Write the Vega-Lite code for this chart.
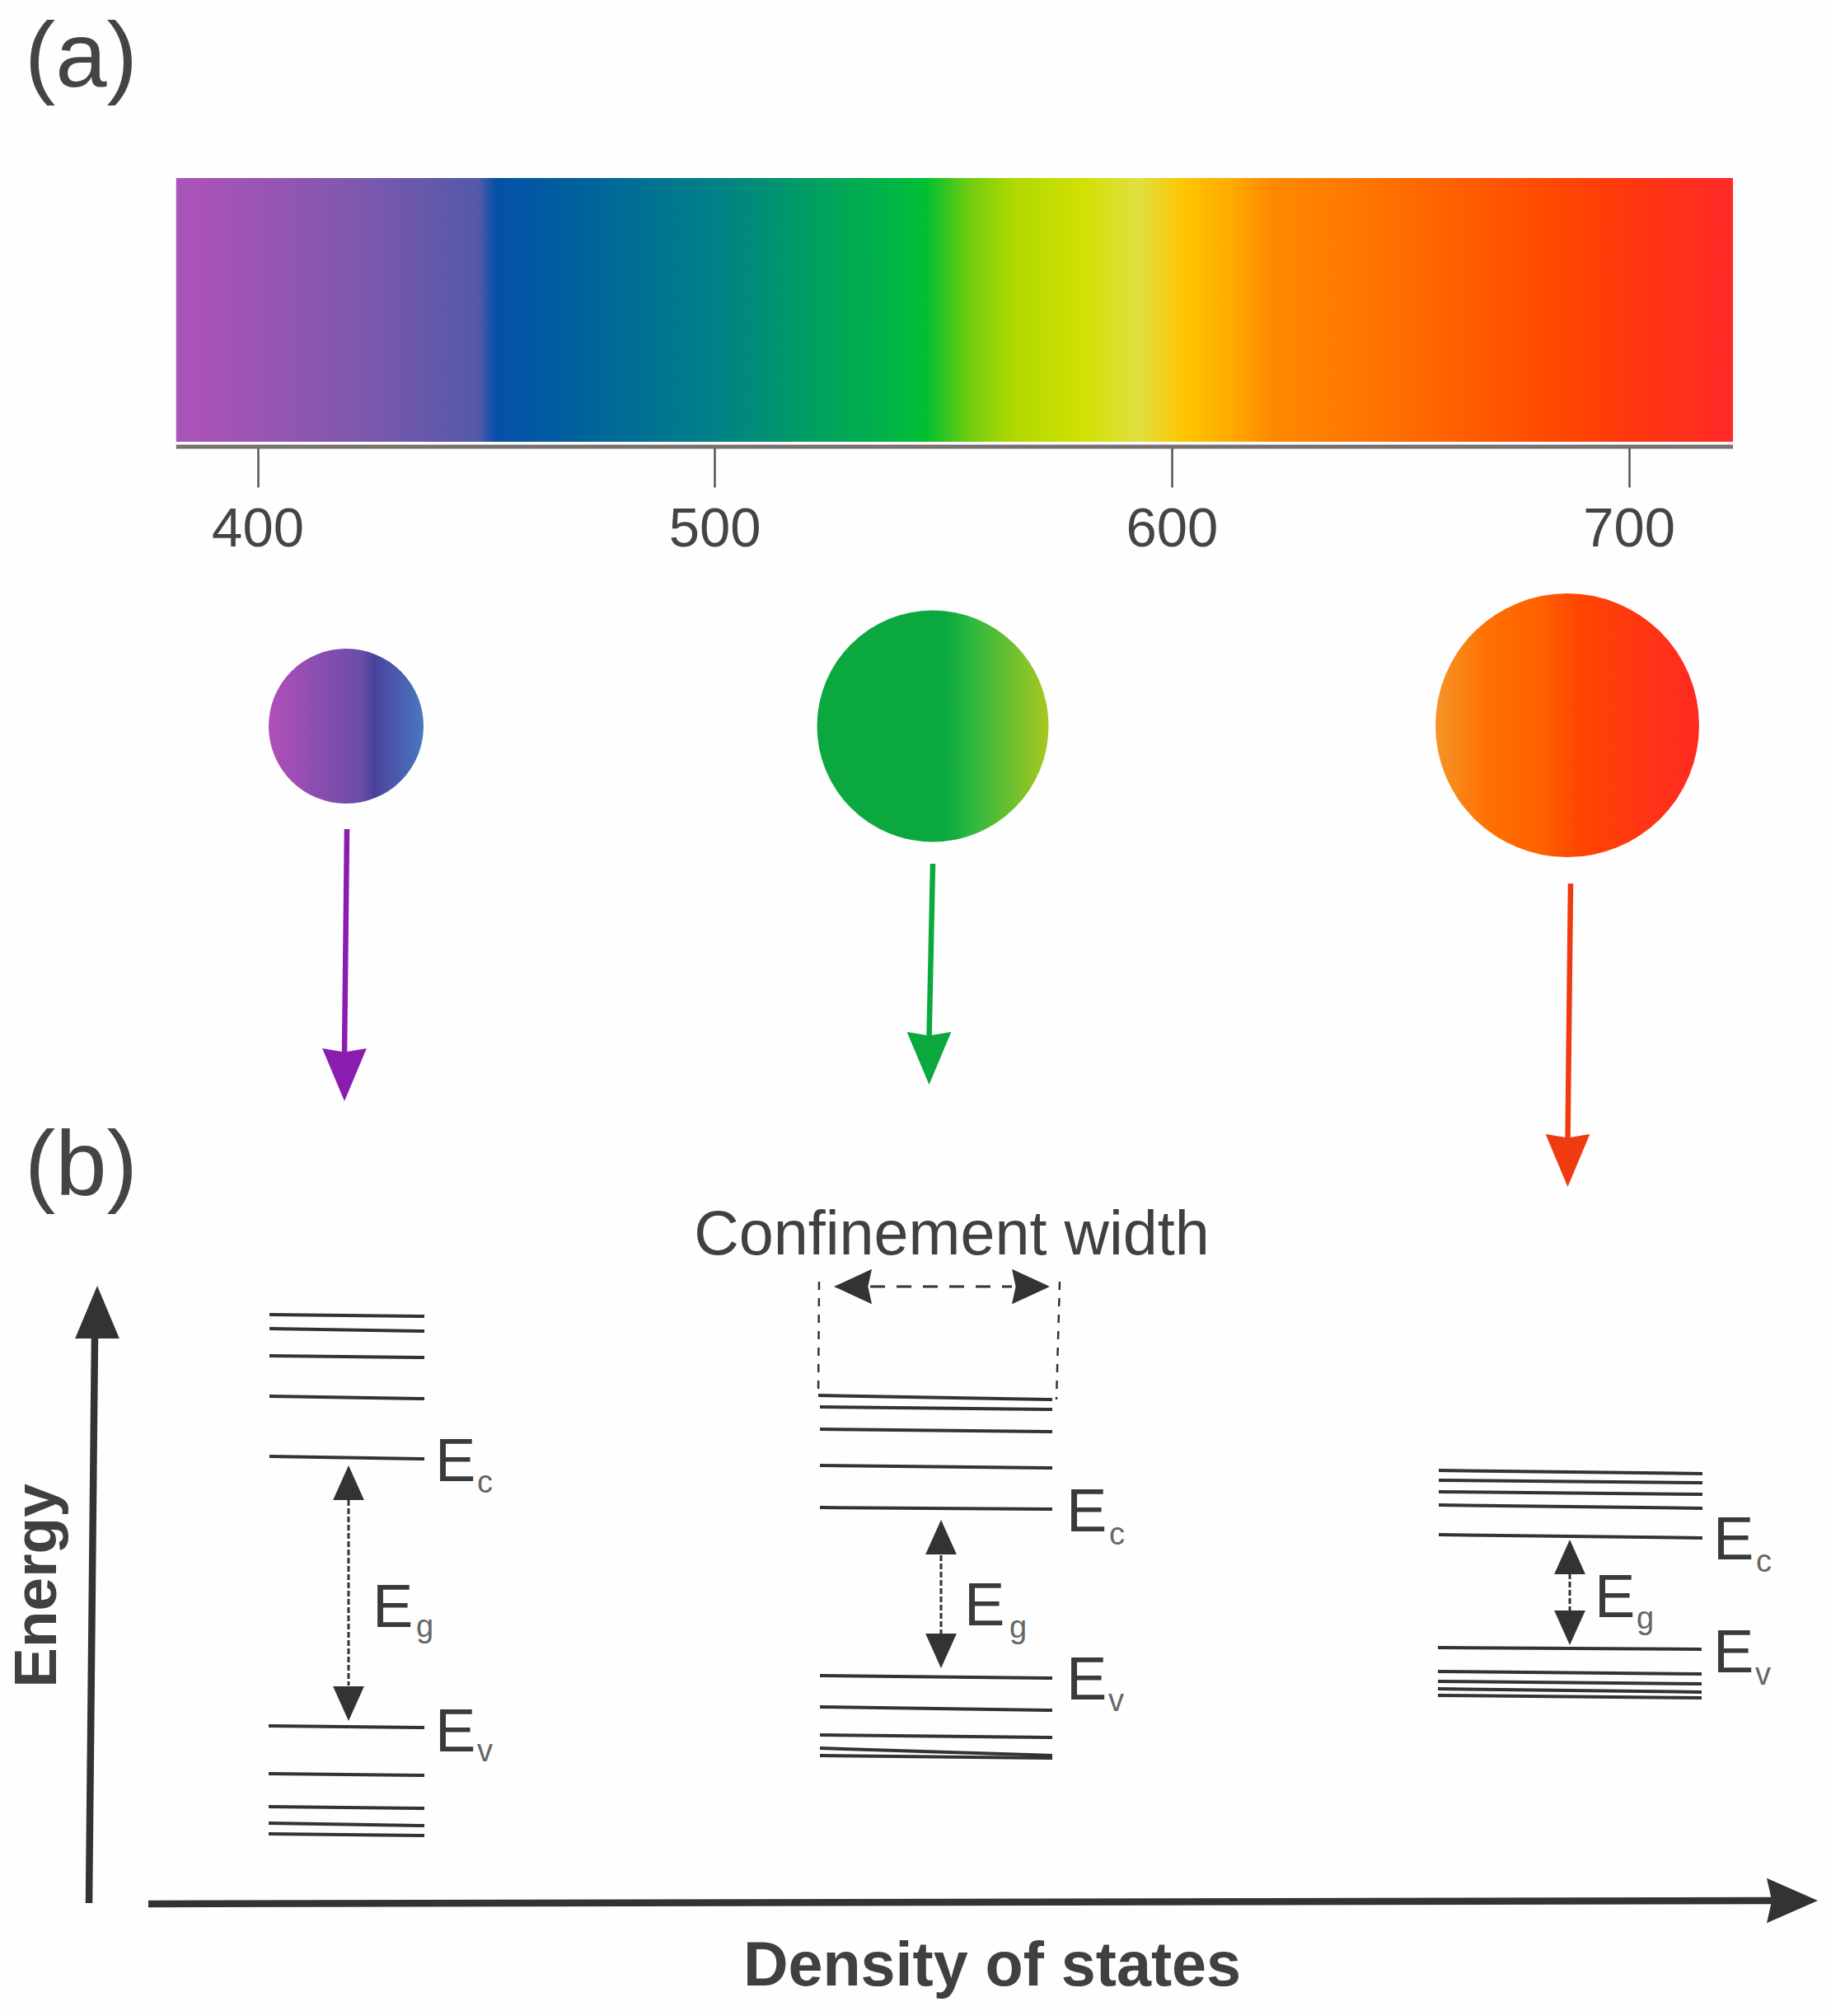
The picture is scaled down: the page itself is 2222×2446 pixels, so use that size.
{
  "$schema": "https://vega.github.io/schema/vega-lite/v6.json",
  "width": 2222,
  "height": 2446,
  "padding": 0,
  "autosize": {"type": "fit", "contains": "padding"},
  "background": "#fefefe",
  "config": {
    "view": {"stroke": null},
    "text": {"font": "Liberation Sans", "align": "left", "baseline": "alphabetic"}
  },
  "datasets": {
    "levels": [
      {"panel": "small", "x": 327, "y": 1595, "x2": 515, "y2": 1597},
      {"panel": "small", "x": 327, "y": 1612, "x2": 515, "y2": 1615},
      {"panel": "small", "x": 327, "y": 1645, "x2": 515, "y2": 1647},
      {"panel": "small", "x": 327, "y": 1694, "x2": 515, "y2": 1697},
      {"panel": "small", "x": 327, "y": 1767, "x2": 515, "y2": 1770},
      {"panel": "small", "x": 326, "y": 2094, "x2": 515, "y2": 2096},
      {"panel": "small", "x": 326, "y": 2152, "x2": 515, "y2": 2154},
      {"panel": "small", "x": 326, "y": 2192, "x2": 515, "y2": 2194},
      {"panel": "small", "x": 326, "y": 2212, "x2": 515, "y2": 2215},
      {"panel": "small", "x": 326, "y": 2225, "x2": 515, "y2": 2227},
      {"panel": "medium", "x": 993, "y": 1693, "x2": 1277, "y2": 1698},
      {"panel": "medium", "x": 995, "y": 1707, "x2": 1277, "y2": 1710},
      {"panel": "medium", "x": 995, "y": 1734, "x2": 1277, "y2": 1737},
      {"panel": "medium", "x": 995, "y": 1778, "x2": 1277, "y2": 1781},
      {"panel": "medium", "x": 995, "y": 1829, "x2": 1277, "y2": 1831},
      {"panel": "medium", "x": 995, "y": 2033, "x2": 1277, "y2": 2036},
      {"panel": "medium", "x": 995, "y": 2071, "x2": 1277, "y2": 2075},
      {"panel": "medium", "x": 995, "y": 2105, "x2": 1277, "y2": 2108},
      {"panel": "medium", "x": 995, "y": 2121, "x2": 1277, "y2": 2130},
      {"panel": "medium", "x": 995, "y": 2130, "x2": 1277, "y2": 2133},
      {"panel": "large", "x": 1746, "y": 1784, "x2": 2066, "y2": 1788},
      {"panel": "large", "x": 1746, "y": 1796, "x2": 2066, "y2": 1799},
      {"panel": "large", "x": 1746, "y": 1810, "x2": 2066, "y2": 1813},
      {"panel": "large", "x": 1746, "y": 1826, "x2": 2066, "y2": 1830},
      {"panel": "large", "x": 1746, "y": 1862, "x2": 2066, "y2": 1866},
      {"panel": "large", "x": 1745, "y": 1999, "x2": 2065, "y2": 2001},
      {"panel": "large", "x": 1745, "y": 2028, "x2": 2065, "y2": 2031},
      {"panel": "large", "x": 1745, "y": 2040, "x2": 2065, "y2": 2043},
      {"panel": "large", "x": 1745, "y": 2049, "x2": 2065, "y2": 2053},
      {"panel": "large", "x": 1745, "y": 2057, "x2": 2065, "y2": 2060}
    ]
  },
  "resolve": {"scale": {"x": "independent"}, "axis": {"x": "independent"}},
  "layer": [
    {
      "data": {"values": [{"wavelength": 382.2, "wavelength_end": 722.8, "y": 216, "y2": 536, "rule_y": 542}]},
      "layer": [
        {
          "mark": {
            "type": "rect",
            "fill": {
              "gradient": "linear", "x1": 0, "x2": 1, "y1": 0, "y2": 0,
              "stops": [
                {"offset": 0, "color": "#a856b8"},
                {"offset": 0.014, "color": "#aa52b8"},
                {"offset": 0.112, "color": "#8058ae"},
                {"offset": 0.194, "color": "#5558a8"},
                {"offset": 0.205, "color": "#0550a8"},
                {"offset": 0.243, "color": "#005ca0"},
                {"offset": 0.345, "color": "#008088"},
                {"offset": 0.412, "color": "#00a060"},
                {"offset": 0.468, "color": "#00b840"},
                {"offset": 0.482, "color": "#00c030"},
                {"offset": 0.509, "color": "#70cc10"},
                {"offset": 0.538, "color": "#b0d800"},
                {"offset": 0.58, "color": "#d0e000"},
                {"offset": 0.618, "color": "#e0e040"},
                {"offset": 0.648, "color": "#ffc400"},
                {"offset": 0.678, "color": "#ffaa00"},
                {"offset": 0.705, "color": "#ff8800"},
                {"offset": 0.756, "color": "#ff7800"},
                {"offset": 0.831, "color": "#ff5c00"},
                {"offset": 0.887, "color": "#ff4800"},
                {"offset": 0.94, "color": "#ff3510"},
                {"offset": 1, "color": "#ff2a28"}
              ]
            }
          },
          "encoding": {
            "x": {
              "field": "wavelength",
              "type": "quantitative",
              "scale": {"domain": [343.66, 744.24], "nice": false, "zero": false},
              "axis": {
                "values": [400, 500, 600, 700],
                "offset": -1904,
                "orient": "bottom",
                "title": null,
                "grid": false,
                "domain": false,
                "tickSize": 49,
                "tickWidth": 2.5,
                "tickColor": "#555555",
                "labelFont": "Liberation Sans",
                "labelFontSize": 67,
                "labelColor": "#444444",
                "labelPadding": 18
              }
            },
            "x2": {"field": "wavelength_end"},
            "y": {"field": "y", "type": "quantitative", "scale": {"domain": [2446, 0]}, "axis": null},
            "y2": {"field": "y2"}
          }
        },
        {
          "mark": {"type": "rule", "color": "#77706f", "strokeWidth": 5},
          "encoding": {
            "x": {"field": "wavelength", "type": "quantitative", "scale": {"domain": [343.66, 744.24], "nice": false, "zero": false}},
            "x2": {"field": "wavelength_end"},
            "y": {"field": "rule_y", "type": "quantitative", "scale": {"domain": [2446, 0]}, "axis": null}
          }
        }
      ]
    },
    {
      "encoding": {
        "x": {"field": "x", "type": "quantitative", "scale": {"domain": [0, 2222]}, "axis": null},
        "y": {"field": "y", "type": "quantitative", "scale": {"domain": [2446, 0]}, "axis": null}
      },
      "layer": [
        {
          "data": {"values": [{"x": 420, "y": 881}]},
          "mark": {
            "type": "point", "shape": "circle", "filled": true, "size": 35344, "opacity": 1,
            "fill": {
              "gradient": "linear", "x1": 0, "x2": 1, "y1": 0, "y2": 0,
              "stops": [
                {"offset": 0, "color": "#b04fb8"},
                {"offset": 0.6, "color": "#6a4ca8"},
                {"offset": 0.68, "color": "#4a429c"},
                {"offset": 1, "color": "#4a78c0"}
              ]
            }
          }
        },
        {
          "data": {"values": [{"x": 1132, "y": 881}]},
          "mark": {
            "type": "point", "shape": "circle", "filled": true, "size": 78961, "opacity": 1,
            "fill": {
              "gradient": "linear", "x1": 0, "x2": 1, "y1": 0, "y2": 0,
              "stops": [
                {"offset": 0, "color": "#0aa83e"},
                {"offset": 0.55, "color": "#0aa83e"},
                {"offset": 0.66, "color": "#2ab840"},
                {"offset": 1, "color": "#a8c820"}
              ]
            }
          }
        },
        {
          "data": {"values": [{"x": 1902, "y": 880}]},
          "mark": {
            "type": "point", "shape": "circle", "filled": true, "size": 102400, "opacity": 1,
            "fill": {
              "gradient": "linear", "x1": 0, "x2": 1, "y1": 0, "y2": 0,
              "stops": [
                {"offset": 0, "color": "#f59428"},
                {"offset": 0.2, "color": "#ff7000"},
                {"offset": 0.4, "color": "#ff6000"},
                {"offset": 0.55, "color": "#ff4500"},
                {"offset": 0.8, "color": "#ff3515"},
                {"offset": 1, "color": "#ff2a20"}
              ]
            }
          }
        },
        {
          "data": {"values": [
            {"sample": "violet", "x": 421, "y": 1006, "x2": 418, "y2": 1280},
            {"sample": "green", "x": 1132, "y": 1048, "x2": 1127.5, "y2": 1260},
            {"sample": "red", "x": 1906, "y": 1072, "x2": 1902.5, "y2": 1385}
          ]},
          "mark": {"type": "rule", "strokeWidth": 6.5},
          "encoding": {
            "x2": {"field": "x2"},
            "y2": {"field": "y2"},
            "color": {
              "field": "sample", "type": "nominal", "legend": null,
              "scale": {"domain": ["violet", "green", "red"], "range": ["#8a1cb0", "#0aa83e", "#f03a10"]}
            }
          }
        },
        {
          "data": {"values": [
            {"sample": "violet", "x": 418, "y": 1336},
            {"sample": "green", "x": 1127.5, "y": 1316},
            {"sample": "red", "x": 1902.5, "y": 1440}
          ]},
          "mark": {"type": "point", "filled": true, "opacity": 1, "shape": "M0,0L-0.42,-1L0,-0.93L0.42,-1Z", "size": 16384},
          "encoding": {
            "color": {
              "field": "sample", "type": "nominal", "legend": null,
              "scale": {"domain": ["violet", "green", "red"], "range": ["#8a1cb0", "#0aa83e", "#f03a10"]}
            }
          }
        },
        {
          "data": {"name": "levels"},
          "mark": {"type": "rule", "color": "#333333", "strokeWidth": 4},
          "encoding": {"x2": {"field": "x2"}, "y2": {"field": "y2"}}
        },
        {
          "data": {"values": [
            {"gap": "small", "x": 423, "y": 1820, "x2": 423, "y2": 2045},
            {"gap": "medium", "x": 1142, "y": 1887, "x2": 1142, "y2": 1982},
            {"gap": "large", "x": 1905, "y": 1909, "x2": 1905, "y2": 1955}
          ]},
          "mark": {"type": "rule", "color": "#333333", "strokeWidth": 3, "strokeDash": [7, 3]},
          "encoding": {"x2": {"field": "x2"}, "y2": {"field": "y2"}}
        },
        {
          "data": {"values": [
            {"x": 1056, "y": 1561, "x2": 1228, "y2": 1561}
          ]},
          "mark": {"type": "rule", "color": "#333333", "strokeWidth": 3, "strokeDash": [18, 14]},
          "encoding": {"x2": {"field": "x2"}, "y2": {"field": "y2"}}
        },
        {
          "data": {"values": [
            {"x": 994, "y": 1555, "x2": 993, "y2": 1695},
            {"x": 1286, "y": 1555, "x2": 1282, "y2": 1698}
          ]},
          "mark": {"type": "rule", "color": "#333333", "strokeWidth": 2.5, "strokeDash": [10, 10]},
          "encoding": {"x2": {"field": "x2"}, "y2": {"field": "y2"}}
        },
        {
          "data": {"values": [
            {"axis": "energy", "x": 108, "y": 2309, "x2": 115, "y2": 1620},
            {"axis": "density", "x": 180, "y": 2310, "x2": 2150, "y2": 2306}
          ]},
          "mark": {"type": "rule", "color": "#333333", "strokeWidth": 8.5},
          "encoding": {"x2": {"field": "x2"}, "y2": {"field": "y2"}}
        },
        {
          "data": {"values": [{"x": 118, "y": 1560}]},
          "mark": {"type": "point", "filled": true, "opacity": 1, "color": "#333333", "shape": "M0,0L-0.42,1L0.42,1Z", "size": 16384}
        },
        {
          "data": {"values": [{"x": 2206, "y": 2306}]},
          "mark": {"type": "point", "filled": true, "opacity": 1, "color": "#333333", "shape": "M0,0L-1,-0.44L-0.9,0L-1,0.44Z", "size": 15376}
        },
        {
          "data": {"values": [{"x": 423, "y": 1778}, {"x": 1142, "y": 1844}, {"x": 1905, "y": 1868}]},
          "mark": {"type": "point", "filled": true, "opacity": 1, "color": "#333333", "shape": "M0,0L-0.45,1L0.45,1Z", "size": 7056}
        },
        {
          "data": {"values": [{"x": 423, "y": 2088}, {"x": 1142, "y": 2024}, {"x": 1905, "y": 1996}]},
          "mark": {"type": "point", "filled": true, "opacity": 1, "color": "#333333", "shape": "M0,0L-0.45,-1L0.45,-1Z", "size": 7056}
        },
        {
          "data": {"values": [{"x": 1274, "y": 1561}]},
          "mark": {"type": "point", "filled": true, "opacity": 1, "color": "#333333", "shape": "M0,0L-1,-0.46L-0.9,0L-1,0.46Z", "size": 8464}
        },
        {
          "data": {"values": [{"x": 1012, "y": 1561}]},
          "mark": {"type": "point", "filled": true, "opacity": 1, "color": "#333333", "shape": "M0,0L1,-0.46L0.9,0L1,0.46Z", "size": 8464}
        },
        {
          "data": {"values": [
            {"label": "(a)", "x": 30, "y": 105},
            {"label": "(b)", "x": 30, "y": 1450}
          ]},
          "mark": {"type": "text", "fontSize": 112, "color": "#444444"},
          "encoding": {"text": {"field": "label"}}
        },
        {
          "data": {"values": [
            {"label": "E", "x": 528, "y": 1797},
            {"label": "E", "x": 452, "y": 1974},
            {"label": "E", "x": 528, "y": 2125},
            {"label": "E", "x": 1294, "y": 1858},
            {"label": "E", "x": 1170, "y": 1972},
            {"label": "E", "x": 1294, "y": 2062},
            {"label": "E", "x": 2079, "y": 1892},
            {"label": "E", "x": 1935, "y": 1962},
            {"label": "E", "x": 2079, "y": 2029}
          ]},
          "mark": {"type": "text", "fontSize": 74, "color": "#3a3a3a"},
          "encoding": {"text": {"field": "label"}}
        },
        {
          "data": {"values": [
            {"label": "c", "x": 579, "y": 1811},
            {"label": "g", "x": 505, "y": 1986},
            {"label": "v", "x": 579, "y": 2137},
            {"label": "c", "x": 1346, "y": 1874},
            {"label": "g", "x": 1225, "y": 1987},
            {"label": "v", "x": 1345, "y": 2076},
            {"label": "c", "x": 2131, "y": 1907},
            {"label": "g", "x": 1986, "y": 1976},
            {"label": "v", "x": 2130, "y": 2044}
          ]},
          "mark": {"type": "text", "fontSize": 38, "color": "#666666"},
          "encoding": {"text": {"field": "label"}}
        },
        {
          "data": {"values": [{"label": "Confinement width", "x": 1155, "y": 1522}]},
          "mark": {"type": "text", "fontSize": 75.5, "color": "#404040", "align": "center"},
          "encoding": {"text": {"field": "label"}}
        },
        {
          "data": {"values": [{"label": "Density of states", "x": 1204, "y": 2409}]},
          "mark": {"type": "text", "fontSize": 75.5, "fontWeight": "bold", "color": "#404040", "align": "center"},
          "encoding": {"text": {"field": "label"}}
        },
        {
          "data": {"values": [{"label": "Energy", "x": 68, "y": 1924}]},
          "mark": {"type": "text", "fontSize": 73, "fontWeight": "bold", "color": "#404040", "align": "center", "angle": 270},
          "encoding": {"text": {"field": "label"}}
        }
      ]
    }
  ]
}
